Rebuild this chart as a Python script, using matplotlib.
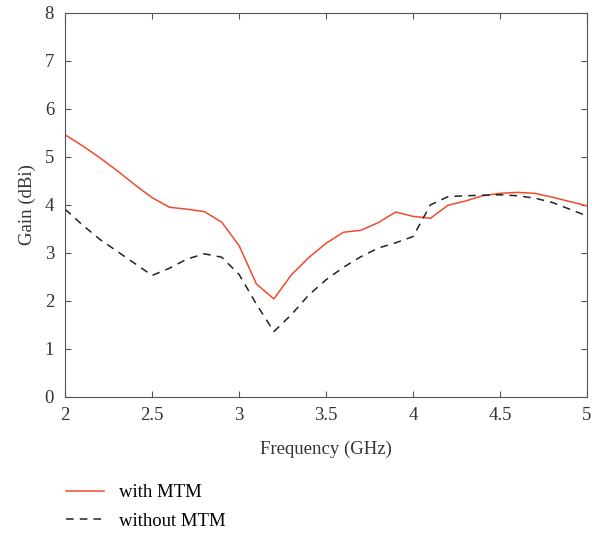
import matplotlib.pyplot as plt

freq = [2.0, 2.1, 2.2, 2.3, 2.4, 2.5, 2.6, 2.7, 2.8, 2.9, 3.0,
        3.1, 3.2, 3.3, 3.4, 3.5, 3.6, 3.7, 3.8, 3.9, 4.0,
        4.1, 4.2, 4.3, 4.4, 4.5, 4.6, 4.7, 4.8, 4.9, 5.0]
with_mtm = [5.46, 5.23, 4.98, 4.71, 4.42, 4.15, 3.95, 3.91, 3.86, 3.64, 3.15,
            2.35, 2.04, 2.54, 2.90, 3.20, 3.43, 3.47, 3.63, 3.85, 3.76,
            3.72, 3.99, 4.08, 4.19, 4.24, 4.26, 4.24, 4.16, 4.07, 3.98]
without_mtm = [3.91, 3.58, 3.28, 3.03, 2.78, 2.53, 2.68, 2.87, 2.98, 2.91, 2.55,
               1.93, 1.36, 1.71, 2.12, 2.44, 2.70, 2.92, 3.10, 3.21, 3.34,
               4.00, 4.17, 4.19, 4.20, 4.21, 4.19, 4.14, 4.05, 3.91, 3.77]

plt.rcParams['font.family'] = ['Liberation Serif', 'DejaVu Serif']
plt.rcParams['font.size'] = 13.5

fig = plt.figure(figsize=(5.92, 5.37), dpi=100)
ax = fig.add_axes([0.11, 0.261, 0.8816, 0.715])

ax.plot(freq, with_mtm, color="#f04a2c", linewidth=1.1, label="with MTM")
ax.plot(freq, without_mtm, color="#222222", linewidth=1.1, linestyle=(0, (5, 4)), label="without MTM")

ax.set_xlim(2, 5)
ax.set_ylim(0, 8)
ax.set_xticks([2, 2.5, 3, 3.5, 4, 4.5, 5])
ax.set_xticklabels(["2", "2.5", "3", "3.5", "4", "4.5", "5"])
ax.set_yticks(range(9))
ax.set_xlabel("Frequency (GHz)", color="#333333", labelpad=12)
ax.set_ylabel("Gain (dBi)", color="#333333", labelpad=6)

for s in ax.spines.values():
    s.set_color("#555555")
ax.tick_params(direction="in", top=True, right=True, colors="#555555",
               labelcolor="#333333", length=4)
ax.tick_params(axis="y", pad=8)
ax.tick_params(axis="x", pad=7)

fig.legend(loc="upper left", bbox_to_anchor=(0.083, 0.13), frameon=False,
           handlelength=2.0, handletextpad=0.8, labelspacing=0.6)

plt.savefig("out.png")
